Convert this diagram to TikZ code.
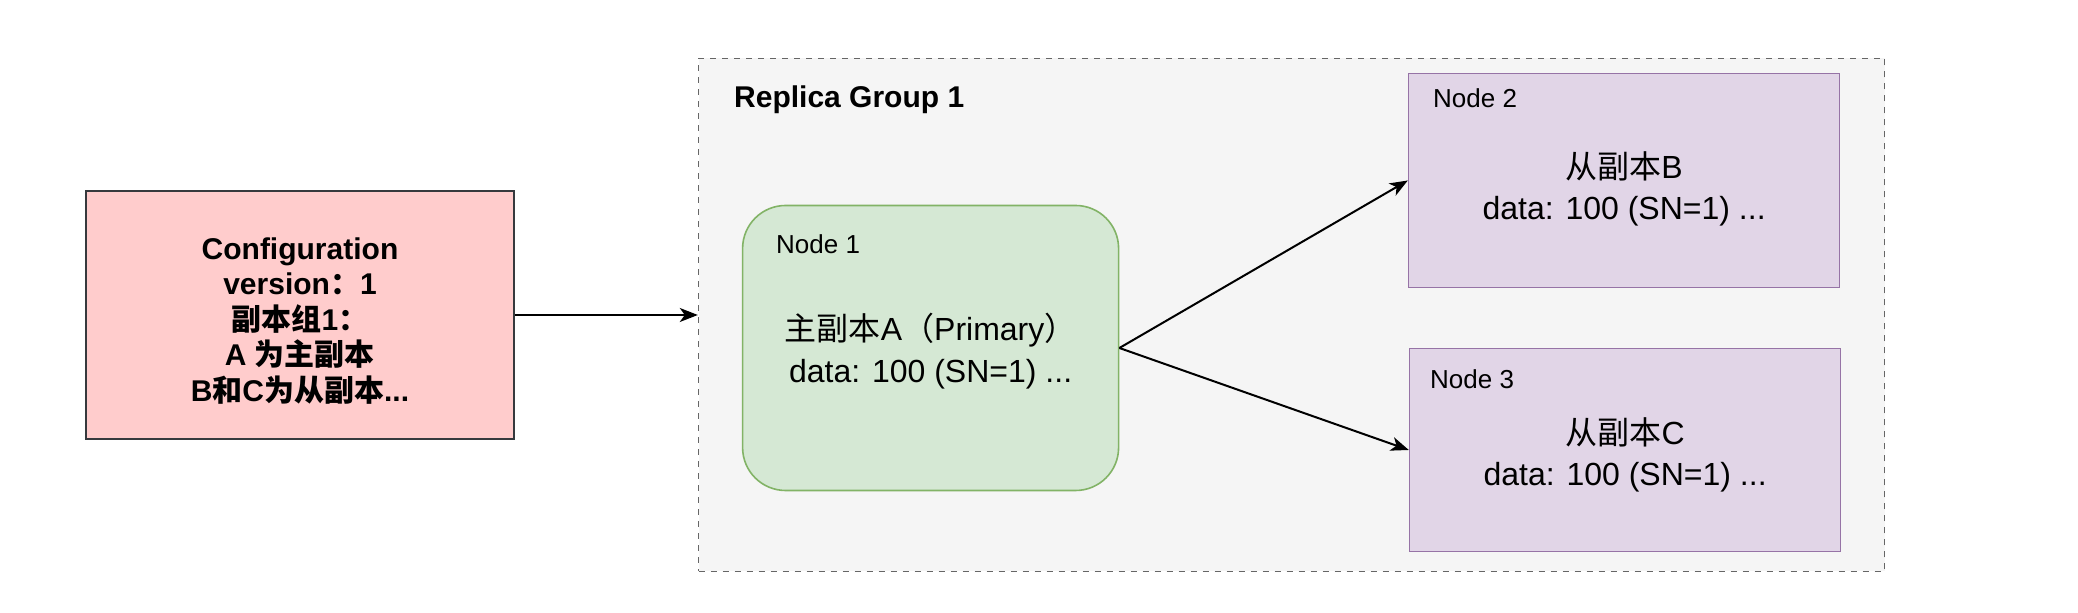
\documentclass[tikz,border=0pt]{standalone}
\usepackage{fontspec}
\setmainfont{Liberation Sans}
\newfontfamily\zhfont{Noto Sans CJK SC}
\newcommand{\zh}[1]{{\zhfont #1}}
\newcommand{\lift}[1]{\rule{0pt}{#1}}
\usetikzlibrary{positioning,arrows.meta}

\definecolor{cfgfill}{HTML}{FFCCCC}
\definecolor{cfgline}{HTML}{36393D}
\definecolor{grpfill}{HTML}{F5F5F5}
\definecolor{grpline}{HTML}{666666}
\definecolor{prifill}{HTML}{D5E8D4}
\definecolor{priline}{HTML}{82B366}
\definecolor{secfill}{HTML}{E1D5E7}
\definecolor{secline}{HTML}{9673A6}

\tikzset{
  cfgbox/.style={draw=cfgline, fill=cfgfill, line width=0.8pt, minimum width=214pt, minimum height=124pt, align=center, font=\fontsize{15}{17.75}\selectfont\bfseries},
  groupbox/.style={draw=grpline, fill=grpfill, line width=0.8pt, dash pattern=on 3pt off 3pt, minimum width=593pt, minimum height=256.5pt},
  pribox/.style={draw=priline, fill=prifill, line width=0.8pt, rounded corners=21.5pt, minimum width=188pt, minimum height=142.5pt, align=center, font=\fontsize{16}{21}\selectfont},
  secbox/.style={draw=secline, fill=secfill, line width=0.8pt, minimum width=215.5pt, align=center, font=\fontsize{16}{20.5}\selectfont},
  nodetag/.style={inner sep=0pt, font=\fontsize{13}{15}\selectfont},
  grouptitle/.style={inner sep=0pt, font=\fontsize{15}{18}\selectfont\bfseries},
  link/.style={-{Stealth[length=9pt,width=7pt,inset=2.5pt]}, line width=1pt},
}

\begin{document}
\begin{tikzpicture}
  \useasboundingbox (-150pt,-149pt) rectangle (889pt,157.5pt);

  % Nodes
  \node[cfgbox] (config) {\lift{16.5pt}Configuration\\ version\zh{：}1\\ \zh{副本组}1\zh{：}\\ A \zh{为主副本}\\ B\zh{和}C\zh{为从副本}...};
  \node[groupbox] (group) [right=91.5pt of config] {};
  \node[grouptitle] (gtitle) [below right=14pt and 18pt of group.north west] {Replica Group 1};

  \node[pribox] (prim) [right=22pt of group.west, yshift=-16.5pt] {\lift{16.5pt}\zh{主副本}A\zh{（}Primary\zh{）}\\ data: 100 (SN=1) ...};
  \node[nodetag] (tag1) [below right=14.8pt and 17pt of prim.north west] {Node 1};

  \node[secbox, minimum height=107pt] (secb) [below left=7.5pt and 22.5pt of group.north east] {\lift{22pt}\zh{从副本}B\\ data: 100 (SN=1) ...};
  \node[nodetag] (tag2) [below right=8pt and 12.5pt of secb.north west] {Node 2};

  \node[secbox, minimum height=101.5pt] (secc) [above left=10pt and 22pt of group.south east] {\lift{18pt}\zh{从副本}C\\ data: 100 (SN=1) ...};
  \node[nodetag] (tag3) [below right=11pt and 10.5pt of secc.north west] {Node 3};

  % Arrows
  \draw[link] (config) -- (group);
  \draw[link] (prim.east) -- (secb.west);
  \draw[link] (prim.east) -- (secc.west);
\end{tikzpicture}
\end{document}
